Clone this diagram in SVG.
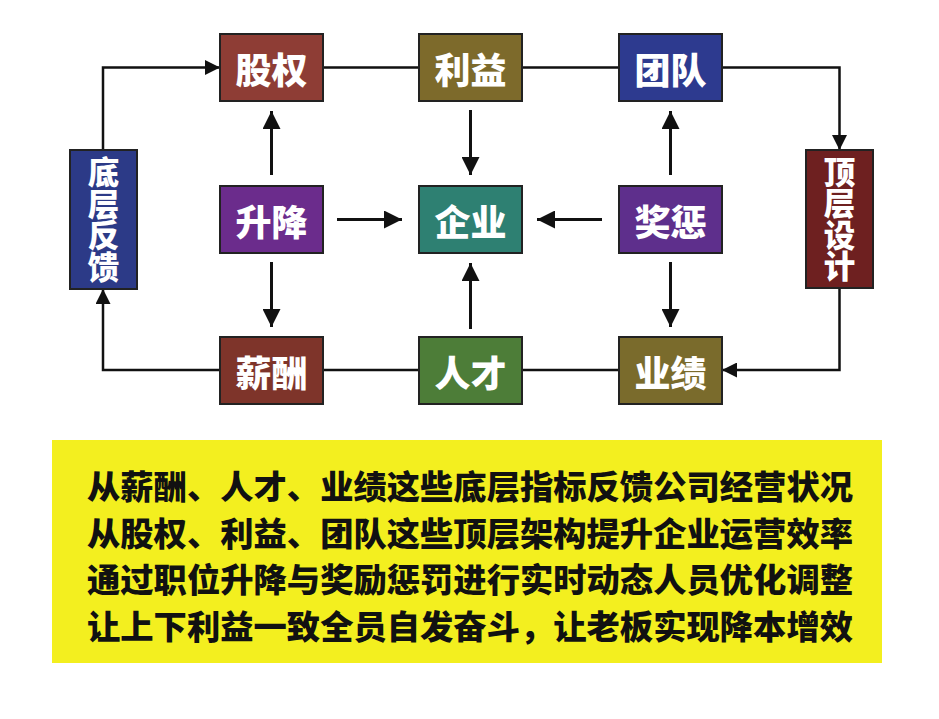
<svg xmlns="http://www.w3.org/2000/svg" width="939" height="719" viewBox="0 0 939 719">
<style>
.box{stroke:#222;stroke-width:2}
.lbl{font-family:"Noto Sans CJK SC","Noto Sans",sans-serif;font-weight:900;font-size:36px;fill:#fff;text-anchor:middle;dominant-baseline:central}
.vl{font-family:"Noto Sans CJK SC","Noto Sans",sans-serif;font-weight:900;font-size:31.5px;fill:#fff;text-anchor:middle;writing-mode:vertical-rl}
.loop{fill:none;stroke:#111;stroke-width:2.5}
.arr{fill:none;stroke:#111;stroke-width:3}
.txt{font-family:"Noto Sans CJK SC","Noto Sans",sans-serif;font-weight:900;font-size:33px;fill:#111;text-anchor:middle;dominant-baseline:central}
</style>
<defs>
<marker id="ms" viewBox="0 0 10 10" refX="10" refY="5" markerWidth="6" markerHeight="6" markerUnits="strokeWidth" orient="auto">
<path d="M0,0 L10,5 L0,10 z" fill="#111"/>
</marker>
<marker id="mb" viewBox="0 0 10 10" refX="10" refY="5" markerWidth="6" markerHeight="6" markerUnits="strokeWidth" orient="auto">
<path d="M0,0 L10,5 L0,10 z" fill="#111"/>
</marker>
</defs>
<rect width="939" height="719" fill="#fff"/>
<g id="connectors">
<path class="loop" d="M103,150 V67.5 H220" marker-end="url(#ms)"/>
<path class="loop" d="M323,67.5 H419 M522,67.5 H619"/>
<path class="loop" d="M722,67.5 H839.5 V150" marker-end="url(#ms)"/>
<path class="loop" d="M839.5,288 V370 H722" marker-end="url(#ms)"/>
<path class="loop" d="M619,370 H522 M419,370 H323"/>
<path class="loop" d="M220,370 H103 V289" marker-end="url(#ms)"/>
<path class="arr" d="M271.5,175 V111" marker-end="url(#mb)"/>
<path class="arr" d="M271.5,262 V327" marker-end="url(#mb)"/>
<path class="arr" d="M337,219.5 H402" marker-end="url(#mb)"/>
<path class="arr" d="M470.5,110 V175" marker-end="url(#mb)"/>
<path class="arr" d="M470.5,329 V263" marker-end="url(#mb)"/>
<path class="arr" d="M602,219.5 H537" marker-end="url(#mb)"/>
<path class="arr" d="M670.5,175 V111" marker-end="url(#mb)"/>
<path class="arr" d="M670.5,262 V327" marker-end="url(#mb)"/>
</g>
<g id="guquan"><rect class="box" x="220" y="34" width="103" height="67" fill="#8E3D35"/><text class="lbl" x="271.5" y="67.5">股权</text></g>
<g id="liyi"><rect class="box" x="419" y="34" width="103" height="67" fill="#7D6A2B"/><text class="lbl" x="470.5" y="67.5">利益</text></g>
<g id="tuandui"><rect class="box" x="619" y="34" width="103" height="67" fill="#2D3A8F"/><text class="lbl" x="670.5" y="67.5">团队</text></g>
<g id="shengjiang"><rect class="box" x="220" y="186" width="103" height="67" fill="#6B2C8C"/><text class="lbl" x="271.5" y="219.5">升降</text></g>
<g id="qiye"><rect class="box" x="419" y="186" width="103" height="67" fill="#2E8072"/><text class="lbl" x="470.5" y="219.5">企业</text></g>
<g id="jiangcheng"><rect class="box" x="619" y="186" width="103" height="67" fill="#5E2F8C"/><text class="lbl" x="670.5" y="219.5">奖惩</text></g>
<g id="xinchou"><rect class="box" x="220" y="337" width="103" height="67" fill="#7E342A"/><text class="lbl" x="271.5" y="370.5">薪酬</text></g>
<g id="rencai"><rect class="box" x="419" y="337" width="103" height="67" fill="#4D7D38"/><text class="lbl" x="470.5" y="370.5">人才</text></g>
<g id="yeji"><rect class="box" x="619" y="337" width="103" height="67" fill="#7A6B2C"/><text class="lbl" x="670.5" y="370.5">业绩</text></g>
<g id="dicengfankui"><rect class="box" x="70" y="150" width="67" height="139" fill="#2C3A87"/>
<text class="vl" x="103.5" y="219.5">底层反馈</text></g>
<g id="dingcengsheji"><rect class="box" x="806" y="150" width="67" height="138" fill="#6E2020"/>
<text class="vl" x="839.5" y="219">顶层设计</text></g>
<g id="summary">
<rect x="52" y="440" width="830" height="223" fill="#F3EF1F"/>
<text class="txt" x="470" y="485" textLength="766" lengthAdjust="spacingAndGlyphs">从薪酬、人才、业绩这些底层指标反馈公司经营状况</text>
<text class="txt" x="470" y="532" textLength="766" lengthAdjust="spacingAndGlyphs">从股权、利益、团队这些顶层架构提升企业运营效率</text>
<text class="txt" x="470" y="578" textLength="766" lengthAdjust="spacingAndGlyphs">通过职位升降与奖励惩罚进行实时动态人员优化调整</text>
<text class="txt" x="470" y="625" textLength="766" lengthAdjust="spacingAndGlyphs">让上下利益一致全员自发奋斗，让老板实现降本增效</text>
</g>
</svg>
